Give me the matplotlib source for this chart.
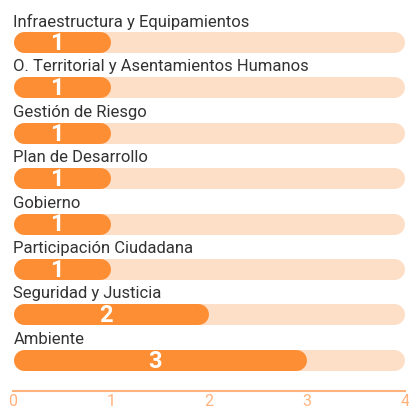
import matplotlib.pyplot as plt

categories = [
    "Infraestructura y Equipamientos",
    "O. Territorial y Asentamientos Humanos",
    "Gestión de Riesgo",
    "Plan de Desarrollo",
    "Gobierno",
    "Participación Ciudadana",
    "Seguridad y Justicia",
    "Ambiente",
]
values = [1, 1, 1, 1, 1, 1, 2, 3]
max_value = 4
ticks = [0, 1, 2, 3, 4]

ORANGE = "#fd8e34"
PEACH = "#fddec6"
AXIS = "#ffb27c"
TEXT = "#333333"


def main():
    plt.rcParams["font.family"] = ["Roboto", "DejaVu Sans"]
    fig = plt.figure(figsize=(4.10, 4.08), dpi=100)
    ax = fig.add_axes([13 / 410, 17 / 408, 392 / 410, 391 / 408])
    ax.set_xlim(0, max_value)
    ax.set_ylim(7.687, -0.925)

    # half of the bar thickness in data units, so round caps stay inside
    bar_px = 21
    px_per_unit = ax.get_window_extent().width / max_value
    r = (bar_px / 2) / px_per_unit
    lw = bar_px * 72 / fig.dpi

    for i, (name, v) in enumerate(zip(categories, values)):
        ax.plot([r, max_value - r], [i, i], color=PEACH, lw=lw,
                solid_capstyle="round", zorder=1)
        ax.plot([r, v - r], [i, i], color=ORANGE, lw=lw,
                solid_capstyle="round", zorder=2)
        ax.text(v / 2 - 0.05, i + 0.03, str(v), ha="center", va="center",
                color="white", fontsize=17, fontweight="bold", zorder=3)
        ax.text(0.005, i - 0.45, name, ha="left", va="center",
                color=TEXT, fontsize=12)

    for side in ["top", "right", "left"]:
        ax.spines[side].set_visible(False)
    ax.spines["bottom"].set_color(AXIS)
    ax.spines["bottom"].set_linewidth(1.5)
    ax.set_yticks([])
    ax.set_xticks(ticks)
    ax.tick_params(axis="x", length=0, pad=2, labelcolor=AXIS, labelsize=11.5)

    fig.savefig("out.png", dpi=100)


if __name__ == "__main__":
    main()
